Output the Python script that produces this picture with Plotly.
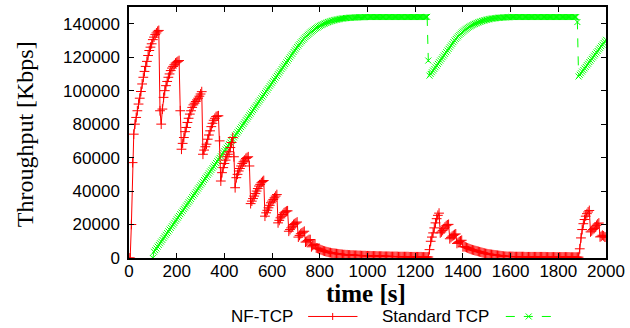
import plotly.graph_objects as go

# sampling grid (s)
t_nf = list(range(0, 2001, 5))
t_std = list(range(100, 2001, 5))

# NF-TCP throughput, thousands of Kbps, one row per 100 s
nf_k = [
    0, 0, 20, 57, 74, 80, 84, 88, 92, 95.5, 99.5, 104, 108, 111.5, 114.5, 117.5, 121, 124, 126, 128,
    130.5, 132, 133.5, 134.5, 135.5, 136, 88, 80, 89, 96, 100, 103, 105.5, 108, 110, 112, 113.5, 114.5, 115.5, 116.5,
    117, 117.5, 118, 88, 65, 68.5, 72, 75.5, 78, 81, 83.5, 86, 88, 90, 91.5, 92.5, 93.5, 94.5, 95.5, 96.7,
    98, 99.4, 62, 64.5, 66.5, 68, 71, 73.5, 76, 78.5, 80.5, 82.3, 83.5, 84.5, 84.8, 85, 70, 46, 51, 54,
    56.5, 58.5, 60.5, 62, 63.5, 66, 69, 72, 60.5, 42, 48, 50, 52, 53.5, 55, 56.5, 57.5, 58.5, 59.5, 60,
    60.5, 55, 32.5, 34, 35.5, 37, 38.5, 40, 41.5, 43, 44, 45, 45.7, 46.3, 25, 27, 28.5, 30, 31.5, 33,
    34, 35, 36, 37, 37.9, 21, 22.5, 24, 25, 26, 27, 27.5, 28, 28.2, 16, 17, 18, 19, 20, 20.5,
    21, 21.5, 12.5, 13.5, 14.5, 15, 15.5, 16, 9.5, 10, 10.5, 11, 11, 6.7, 7.5, 8, 8.3, 6, 5.8, 5.5,
    5.2, 4.9, 4.6, 4.3, 4.1, 3.9, 3.7, 3.5, 3.3, 3.2, 3.0, 2.9, 2.8, 2.7, 2.6, 2.5, 2.4, 2.3, 2.2, 2.1,
    2.0, 2.0, 1.9, 1.9, 1.8, 1.8, 1.7, 1.7, 1.7, 1.6, 1.6, 1.6, 1.5, 1.5, 1.5, 1.4, 1.4, 1.4, 1.4, 1.3,
    1.3, 1.3, 1.3, 1.2, 1.2, 1.2, 1.2, 1.2, 1.1, 1.1, 1.1, 1.1, 1.1, 1.0, 1.0, 1.0, 1.0, 1.0, 1.0, 0.9,
    0.9, 0.9, 0.9, 0.9, 0.9, 0.9, 0.8, 0.8, 0.8, 0.8, 0.8, 0.8, 0.8, 0.8, 0.8, 0.7, 0.7, 0.7, 0.7, 0.7,
    0.7, 0.7, 0.7, 0.7, 0.7, 0.7, 0.6, 0.6, 0.6, 0.6, 0.6, 0.6, 5, 10, 12.5, 15, 18, 21, 23.5, 25.5,
    26.8, 15, 15.6, 16.5, 17.5, 18.5, 19.3, 19.8, 20.1, 11.5, 12.3, 13, 13.5, 14, 14.4, 8.7, 9.3, 9.8, 10.2, 10.6,
    6.7, 6.8, 6.6, 6.3, 6.0, 5.7, 5.4, 5.1, 4.9, 4.7, 4.5, 4.3, 4.1, 3.9, 3.7, 3.5, 3.3, 3.1, 2.9, 2.7,
    2.6, 2.4, 2.3, 2.2, 2.1, 2.0, 1.9, 1.8, 1.7, 1.6, 1.5, 1.4, 1.3, 1.2, 1.1, 1.0, 1.0, 0.9, 0.9, 0.9,
    0.9, 0.9, 0.9, 0.8, 0.8, 0.8, 0.8, 0.8, 0.8, 0.8, 0.8, 0.8, 0.7, 0.7, 0.7, 0.7, 0.7, 0.7, 0.7, 0.7,
    0.7, 0.7, 0.7, 0.7, 0.7, 0.7, 0.7, 0.7, 0.7, 0.7, 0.6, 0.6, 0.6, 0.6, 0.6, 0.6, 0.6, 0.6, 0.6, 0.6,
    0.6, 0.6, 0.6, 0.6, 0.6, 0.6, 0.6, 0.6, 0.6, 0.6, 0.5, 0.5, 0.5, 0.5, 0.5, 0.5, 0.5, 0.5, 5.5, 12,
    17, 20.5, 23, 25, 26.5, 27.5, 28.4, 15.6, 16.2, 17, 17.6, 18.5, 19.5, 20.3, 20.9, 12.6, 13, 13.6, 13.2, 12.5,
    12.5,
]

# Standard TCP throughput, thousands of Kbps, from t=100 s, one row per 100 s
std_k = [
    0, 3.7, 4.7, 5.7, 6.8, 7.8, 8.8, 9.8, 10.8, 11.9, 12.9, 13.9, 14.9, 15.9, 17.0, 18.0, 19.0, 20.0, 21.0, 22.1,
    23.1, 24.1, 25.1, 26.2, 27.2, 28.2, 29.2, 30.2, 31.3, 32.3, 33.3, 34.3, 35.3, 36.4, 37.4, 38.4, 39.4, 40.4, 41.5, 42.5,
    43.5, 44.5, 45.5, 46.6, 47.6, 48.6, 49.6, 50.6, 51.7, 52.7, 53.7, 54.7, 55.7, 56.8, 57.8, 58.8, 59.8, 60.8, 61.9, 62.9,
    63.9, 64.9, 65.9, 67.0, 68.0, 69.0, 70.0, 71.0, 72.1, 73.1, 74.1, 75.1, 76.1, 77.2, 78.2, 79.2, 80.2, 81.2, 82.3, 83.3,
    84.3, 85.3, 86.3, 87.4, 88.4, 89.4, 90.4, 91.4, 92.5, 93.5, 94.5, 95.5, 96.5, 97.6, 98.6, 99.6, 100.6, 101.6, 102.7, 103.7,
    104.7, 105.7, 106.7, 107.8, 108.8, 109.8, 110.8, 111.8, 112.9, 113.9, 114.9, 115.9, 116.9, 118.0, 119.0, 120.0, 121.0, 122.0, 123.1, 124.1,
    125.1, 126.1, 127.0, 127.9, 128.8, 129.6, 130.4, 131.2, 132.0, 132.7, 133.4, 134.0, 134.7, 135.3, 135.8, 136.4, 136.9, 137.4, 137.8, 138.3,
    138.7, 139.1, 139.4, 139.8, 140.1, 140.4, 140.7, 141.0, 141.2, 141.5, 141.7, 141.9, 142.1, 142.3, 142.4, 142.6, 142.7, 142.9, 143.0, 143.1,
    143.2, 143.3, 143.4, 143.4, 143.5, 143.6, 143.6, 143.7, 143.7, 143.7, 143.8, 143.8, 143.8, 143.9, 143.9, 143.9, 143.9, 143.9, 144.0, 144.0,
    144.0, 144.0, 144.0, 144.0, 144.0, 144.0, 144.0, 144.0, 144.0, 144.0, 144.0, 144.0, 144.0, 144.0, 144.0, 144.0, 144.0, 144.0, 144.0, 144.0,
    144.0, 144.0, 144.0, 144.0, 144.0, 144.0, 144.0, 144.0, 144.0, 144.0, 144.0, 144.0, 144.0, 144.0, 144.0, 144.0, 144.0, 144.0, 144.0, 144.0,
    144.0, 144.0, 144.0, 144.0, 144.0, 144.0, 144.0, 144.0, 144.0, 144.0, 144.1, 118, 109, 110, 111, 112, 113, 114, 115, 116,
    117, 118, 119, 120, 121, 122, 123, 124, 125, 126, 127, 128, 129, 130, 130.9, 131.7, 132.5, 133.3, 134.0, 134.7,
    135.3, 135.9, 136.5, 137.0, 137.5, 138.0, 138.4, 138.8, 139.2, 139.6, 139.9, 140.2, 140.5, 140.8, 141.1, 141.3, 141.6, 141.8, 142.0, 142.2,
    142.4, 142.6, 142.7, 142.9, 143.0, 143.1, 143.2, 143.3, 143.4, 143.5, 143.6, 143.6, 143.7, 143.7, 143.8, 143.8, 143.8, 143.9, 143.9, 143.9,
    144.0, 144.0, 144.0, 144.0, 144.0, 144.0, 144.0, 144.0, 144.0, 144.0, 144.0, 144.0, 144.0, 144.0, 144.0, 144.0, 144.0, 144.0, 144.0, 144.0,
    144.0, 144.0, 144.0, 144.0, 144.0, 144.0, 144.0, 144.0, 144.0, 144.0, 144.0, 144.0, 144.0, 144.0, 144.0, 144.0, 144.0, 144.0, 144.0, 144.0,
    144.0, 144.0, 144.0, 144.0, 144.0, 144.0, 144.0, 144.0, 144.0, 144.0, 144.0, 144.0, 144.0, 144.0, 144.0, 144.0, 141, 108.5, 109.5, 110.4,
    111.4, 112.3, 113.3, 114.2, 115.2, 116.1, 117.1, 118.0, 119.0, 119.9, 120.9, 121.8, 122.8, 123.7, 124.7, 125.6, 126.6, 127.5, 128.5, 129.4,
    130.4,
]

nf_kbps = [v * 1000 for v in nf_k]
std_kbps = [v * 1000 for v in std_k]

x_ticks = list(range(0, 2001, 200))
y_ticks = list(range(0, 140001, 20000))

RED = "#ff0000"
GREEN = "#00ff00"
SANS = "Liberation Sans, Arial, sans-serif"
SERIF = "Liberation Serif, Times New Roman, serif"
TICK_FONT = dict(family=SANS, size=17, color="black")

fig = go.Figure()
fig.add_trace(go.Scatter(
    x=t_std, y=std_kbps, mode="lines+markers", name="Standard TCP",
    line=dict(color=GREEN, width=1, dash="dash"),
    marker=dict(symbol="x-thin", size=6, line=dict(color=GREEN, width=1), color=GREEN),
    showlegend=False,
))
fig.add_trace(go.Scatter(
    x=t_nf, y=nf_kbps, mode="lines+markers", name="NF-TCP",
    line=dict(color=RED, width=1),
    marker=dict(symbol="cross-thin", size=7, line=dict(color=RED, width=1), color=RED),
    showlegend=False,
))

axis_common = dict(
    showline=True, linecolor="black", linewidth=1.5, mirror="allticks",
    ticks="inside", ticklen=5, tickwidth=1, tickcolor="black",
    showgrid=False, zeroline=False, tickfont=TICK_FONT,
)
fig.update_xaxes(range=[0, 2000], tickvals=x_ticks, ticktext=[str(v) for v in x_ticks],
                 ticklabelstandoff=-3, **axis_common)
fig.update_yaxes(range=[0, 150000], tickvals=y_ticks, ticktext=[str(v) for v in y_ticks],
                 ticklabelstandoff=4, **axis_common)

# legend (gnuplot style: label then sample)
leg_y = -0.233
annotations = [
    dict(text="Throughput [Kbps]", xref="paper", yref="paper", x=-0.218, y=0.493,
         textangle=-90, showarrow=False, xanchor="center", yanchor="middle",
         font=dict(family=SERIF, size=24, color="black")),
    dict(text="<b>time [s]</b>", xref="paper", yref="paper", x=0.497, y=-0.14,
         showarrow=False, xanchor="center", yanchor="middle",
         font=dict(family=SERIF, size=25, color="black")),
    dict(text="NF-TCP", xref="paper", yref="paper", x=0.3485, y=leg_y,
         showarrow=False, xanchor="right", yanchor="middle",
         font=dict(family=SANS, size=17, color="black")),
    dict(text="Standard TCP", xref="paper", yref="paper", x=0.759, y=leg_y,
         showarrow=False, xanchor="right", yanchor="middle",
         font=dict(family=SANS, size=17, color="black")),
]
shapes = [
    dict(type="line", xref="paper", yref="paper", x0=0.3755, x1=0.479, y0=leg_y, y1=leg_y,
         line=dict(color=RED, width=1)),
    dict(type="line", xref="paper", yref="paper", xsizemode="pixel", ysizemode="pixel",
         xanchor=0.427, yanchor=leg_y, x0=0, x1=0, y0=-3.5, y1=3.5, line=dict(color=RED, width=1)),
    dict(type="line", xref="paper", yref="paper", x0=0.790, x1=0.888, y0=leg_y, y1=leg_y,
         line=dict(color=GREEN, width=1, dash="dash")),
    dict(type="line", xref="paper", yref="paper", xsizemode="pixel", ysizemode="pixel",
         xanchor=0.838, yanchor=leg_y, x0=-3, x1=3, y0=-3, y1=3, line=dict(color=GREEN, width=1)),
    dict(type="line", xref="paper", yref="paper", xsizemode="pixel", ysizemode="pixel",
         xanchor=0.838, yanchor=leg_y, x0=-3, x1=3, y0=3, y1=-3, line=dict(color=GREEN, width=1)),
]

fig.update_layout(
    width=630, height=328,
    margin=dict(l=129, r=19, t=5, b=70),
    paper_bgcolor="white", plot_bgcolor="white",
    annotations=annotations, shapes=shapes,
    showlegend=False,
)

fig.write_html("out.html")
